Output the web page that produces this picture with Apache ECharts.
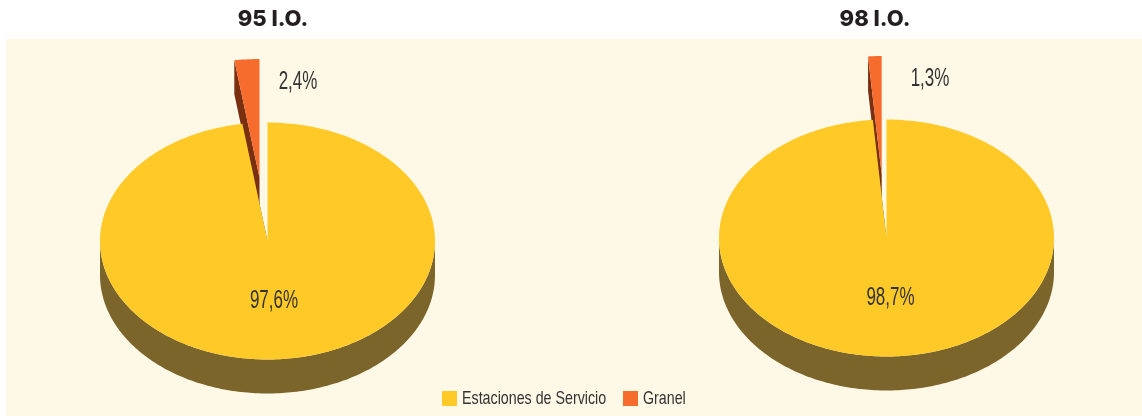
<!DOCTYPE html>
<html><head><meta charset="utf-8">
<style>html,body{margin:0;padding:0;background:#fff}#c{width:1142px;height:416px}</style>
<script src="https://cdn.jsdelivr.net/npm/echarts@6/dist/echarts.min.js"></script>
</head><body><div id="c"></div>
<script>
const chartTitles = ['95 I.O.', '98 I.O.'];
const estaciones = [97.6, 98.7];
const granel = [2.4, 1.3];
const seriesNames = ['Estaciones de Servicio', 'Granel'];

const COLORS = { est: '#FFC928', gra: '#F66C2D', estSide: '#7B652A', graSide: '#7A2F10', bg: '#FEF8E7', text: '#333333' };
const PIES = [
  { cx: 267.5, cy: 241, titleX: 268, rx: 167.5, ry: 118.5, depth: 34, explode: [-8, -63.5], estLabel: [274, 301], graLabel: [298, 82] },
  { cx: 886.5, cy: 238, titleX: 870, rx: 167.5, ry: 118.5, depth: 34, explode: [-4.8, -63.5], estLabel: [890.5, 298], graLabel: [930, 79] }
];
const fmt = v => v.toFixed(1).replace('.', ',') + '%';
const rim = (p, ox, oy, deg) => {
  const a = deg * Math.PI / 180;
  return [p.cx + ox + p.rx * Math.sin(a), p.cy + oy - p.ry * Math.cos(a)];
};
function arc(p, ox, oy, from, to) {
  const pts = [];
  const n = Math.max(2, Math.ceil(Math.abs(to - from)));
  for (let i = 0; i <= n; i++) pts.push(rim(p, ox, oy, from + (to - from) * i / n));
  return pts;
}
function slice(p, start, sweep, ox, oy, color, side, label, labelPos) {
  const end = start + sweep, children = [];
  const c = [p.cx + ox, p.cy + oy];
  // cut faces at both ends of the slice
  [start, end].forEach(d => {
    const e = rim(p, ox, oy, d);
    children.push({ type: 'polygon', shape: { points: [e, c, [c[0], c[1] + p.depth], [e[0], e[1] + p.depth]] }, style: { fill: side } });
  });
  // outer wall (front half only)
  const a = Math.max(start, 90), b = Math.min(end, 270);
  if (b > a) {
    children.push({ type: 'polygon', shape: { points: arc(p, ox, oy, a, b).concat(arc(p, ox, oy + p.depth, b, a)) }, style: { fill: side } });
  }
  // top surface
  children.push({ type: 'polygon', shape: { points: [c].concat(arc(p, ox, oy, start, end)) }, style: { fill: color } });
  // value label
  children.push({ type: 'text', x: labelPos[0], y: labelPos[1], scaleX: 0.68, style: { text: label, fill: COLORS.text, font: '25px "Liberation Sans"', textAlign: 'center', textVerticalAlign: 'middle' } });
  return { type: 'group', children };
}
const LEGEND = [
  { name: seriesNames[0], color: COLORS.est, swatchX: 442, textX: 462 },
  { name: seriesNames[1], color: COLORS.gra, swatchX: 623, textX: 643 }
];
const option = {
  animation: false,
  backgroundColor: '#ffffff',
  graphic: [{ type: 'rect', z: -1, shape: { x: 6, y: 39, width: 1136, height: 377 }, style: { fill: COLORS.bg } }]
    .concat(LEGEND.flatMap(l => [
      { type: 'rect', z: 10, shape: { x: l.swatchX, y: 391, width: 15, height: 15 }, style: { fill: l.color } },
      { type: 'text', z: 10, x: l.textX, y: 398.5, scaleX: 0.75, style: { text: l.name, fill: COLORS.text, font: '19px "Liberation Sans"', textAlign: 'left', textVerticalAlign: 'middle' } }
    ])),
  title: chartTitles.map((t, i) => ({
    text: t, left: PIES[i].titleX, top: 3, textAlign: 'center',
    textStyle: { fontFamily: 'Inter', fontWeight: 800, fontSize: 22, color: '#231F20' }
  })),
  series: [
    {
      name: seriesNames[1], type: 'custom', coordinateSystem: 'none', z: 2,
      itemStyle: { color: COLORS.gra },
      data: granel.map((v, i) => [i, v]),
      renderItem: (params, api) => {
        const i = api.value(0), v = api.value(1), p = PIES[i];
        return slice(p, 360 - v * 3.6, v * 3.6, p.explode[0], p.explode[1], COLORS.gra, COLORS.graSide, fmt(v), p.graLabel);
      }
    },
    {
      name: seriesNames[0], type: 'custom', coordinateSystem: 'none', z: 3,
      itemStyle: { color: COLORS.est },
      data: estaciones.map((v, i) => [i, v]),
      renderItem: (params, api) => {
        const i = api.value(0), v = api.value(1), p = PIES[i];
        return slice(p, 0, v * 3.6, 0, 0, COLORS.est, COLORS.estSide, fmt(v), p.estLabel);
      }
    }
  ]
};
echarts.init(document.getElementById('c'), null, { renderer: 'canvas' }).setOption(option);
</script></body></html>
